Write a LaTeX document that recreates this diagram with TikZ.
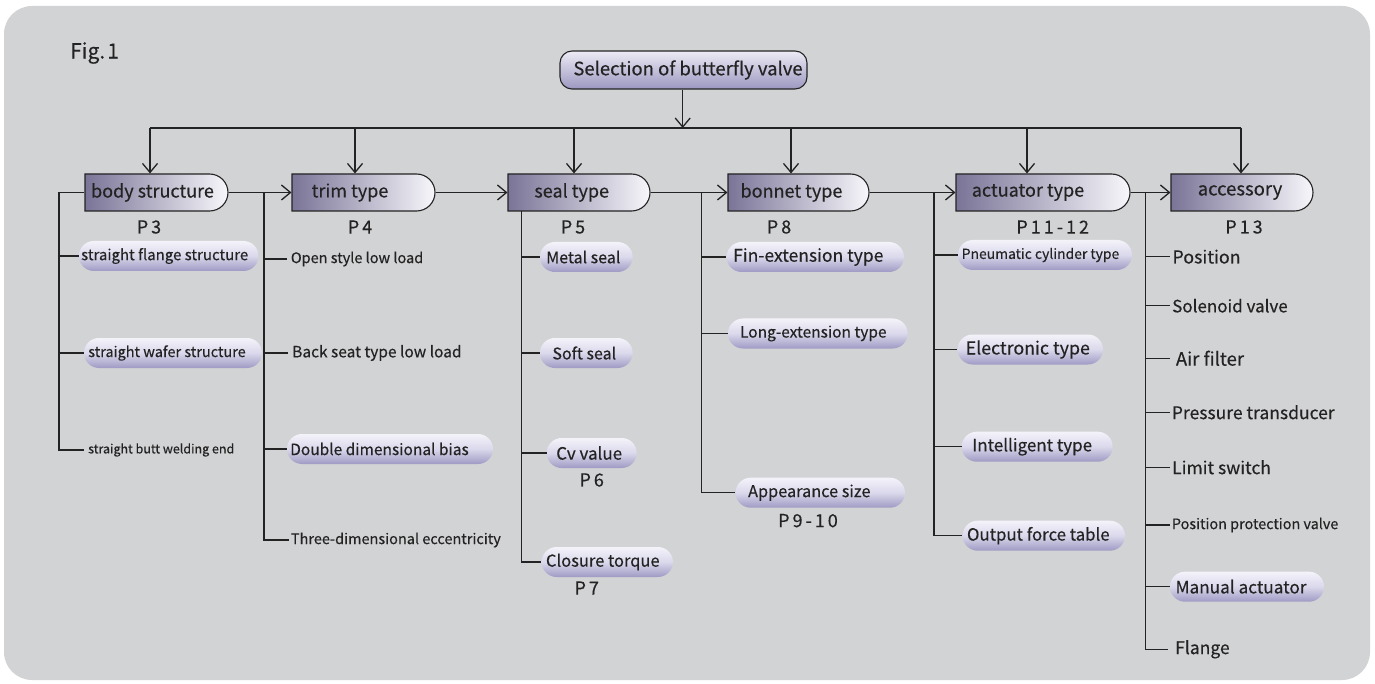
\documentclass[tikz,border=0pt]{standalone}
\usepackage{fontspec}
\setmainfont{Noto Sans CJK JP}[FakeBold=0.3,AutoFakeBold=0.3]
\usetikzlibrary{shapes.misc,arrows.meta}
\definecolor{panel}{HTML}{D2D3D5}
\definecolor{ink}{HTML}{232323}
\definecolor{boxdark}{HTML}{7A7497}
\definecolor{boxlight}{HTML}{F7F7FB}
\definecolor{pilltop}{HTML}{F4F3FA}
\definecolor{pillmid}{HTML}{DAD8EB}
\definecolor{pillbot}{HTML}{9F9AC4}
\definecolor{seltop}{HTML}{ECEBF5}
\definecolor{selbot}{HTML}{9C97C0}
\newcommand\fs[1]{\fontsize{#1}{#1}\selectfont}
\newcommand\rp[1]{\hspace*{#1pt}}
\begin{document}
\begin{tikzpicture}[x=1pt,y=-1pt,
  line/.style={draw=ink,line width=1.3pt},
  arr/.style={line,-{Straight Barb[length=9pt,width=15pt]}},
  mainbox/.style={rounded rectangle,rounded rectangle left arc=none,draw=ink,line width=1.1pt,
    left color=boxdark,right color=boxlight,minimum height=37pt,inner sep=0pt},
  maintext/.style={inner sep=0pt,text=ink,font=\fs{18}},
  pagelbl/.style={inner sep=0pt,text=ink,font=\fs{18}},
  pill/.style={rounded rectangle,top color=pilltop,bottom color=pillbot,middle color=pillmid,
    minimum height=30pt,inner sep=0pt,text=ink},
  plain/.style={inner sep=0pt,anchor=west,text=ink},
  topbox/.style={draw=ink,line width=1.1pt,rounded corners=12pt,top color=seltop,bottom color=selbot,
    inner sep=0pt,text=ink,font=\fs{18.5}}]
\useasboundingbox (0,0) rectangle (1375,684);
\fill[white] (0,0) rectangle (1375,684);
\fill[panel,rounded corners=28pt] (4,6) rectangle (1370,680);
\node[plain,font=\fs{21}] (fig) at (70,53) {Fig.\kern2pt1};
% top
\node[topbox,minimum width=247pt,minimum height=38pt] (sel) at (683.5,70) {\rp{9}Selection of butterfly valve};
\coordinate (bL) at (150,128);
\coordinate (bR) at (1241,128);
\coordinate (bM) at (682.7,128);
\draw[arr] (sel.south -| bM) -- (bM);
\draw[line] (bL) -- (bR);
% main boxes
\node[mainbox,minimum width=143pt] (body) at (156.5,192.5) {};
\node[mainbox,minimum width=143pt] (trim) at (363.5,192.5) {};
\node[mainbox,minimum width=142pt] (seal) at (579,192.5) {};
\node[mainbox,minimum width=141pt] (bonnet) at (798.5,192.5) {};
\node[mainbox,minimum width=174pt] (act) at (1043,192.5) {};
\node[mainbox,minimum width=142pt] (acc) at (1242,192.5) {};
\node[maintext] (tbody) at (152.5,192.5) {body structure};
\node[maintext] (ttrim) at (350,192.5) {trim type};
\node[maintext] (tseal) at (571.7,192.5) {seal type};
\node[maintext] (tbonnet) at (791.5,192.5) {bonnet type};
\node[maintext] (tact) at (1028,192.5) {actuator type};
\node[maintext,font=\fs{18.5}] (tacc) at (1240,192.5) {accessory};
% page labels
\node[pagelbl] (p3) at (149,227) {P\kern3pt3};
\node[pagelbl] (p4) at (360,227) {P\kern3pt4};
\node[pagelbl] (p5) at (573,227) {P\kern3pt5};
\node[pagelbl] (p8) at (779,227) {P\kern3pt8};
\node[pagelbl] (p1112) at (1052.7,227) {P\kern3pt1\kern3pt1\kern3pt-\kern3pt1\kern3pt2};
\node[pagelbl] (p13) at (1244,227) {P\kern3pt1\kern3pt3};
% bus arrows
\foreach \x/\n in {150/body,355/trim,574/seal,791/bonnet,1027/act,1241/acc}{
  \coordinate (d\n) at (\x,128);
  \draw[arr] (d\n) -- (d\n |- \n.north);
}
% chain arrows
\draw[arr] (body.east) -- (trim.west);
\draw[arr] (trim.east) -- (seal.west);
\draw[arr] (seal.east) -- (bonnet.west);
\draw[arr] (bonnet.east) -- (act.west);
\draw[arr] (act.east) -- (acc.west);
% ---- body children
\node[pill,minimum width=176pt,font=\fs{15}] (b1) at (168.7,256) {straight flange structure\rp{8}};
\node[pill,minimum width=178pt,font=\fs{14.5}] (b2) at (173,353) {straight wafer structure\rp{12}};
\node[plain,font=\fs{12.5}] (b3) at (88,450) {straight butt welding end};
\coordinate (bs0) at (59,192.5);
\draw[line] (body.west) -- (bs0) -- (bs0 |- b3.west) -- ([xshift=-4pt]b3.west);
\draw[line] (bs0 |- b1.west) -- (b1.west);
\draw[line] (bs0 |- b2.west) -- (b2.west);
% ---- trim children
\node[plain,font=\fs{14.5}] (t1) at (290.7,259) {Open style low load};
\node[plain,font=\fs{15.5}] (t2) at (292,353) {Back seat type low load};
\node[pill,minimum width=206pt,font=\fs{15.5}] (t3) at (390,449) {Double dimensional bias\rp{21}};
\node[plain,font=\fs{14.5}] (t4) at (290.7,540) {Three-dimensional eccentricity};
\coordinate (ts0) at (264,192.5);
\draw[line] (ts0) -- (ts0 |- t4.west) -- ([xshift=-2pt]t4.west);
\draw[line] (ts0 |- t1.west) -- ([xshift=-4pt]t1.west);
\draw[line] (ts0 |- t2.west) -- ([xshift=-4pt]t2.west);
\draw[line] (ts0 |- t3.west) -- (t3.west);
% ---- seal children
\node[pill,minimum width=92.7pt,font=\fs{16}] (s1) at (586.3,257) {Metal seal\rp{6}};
\node[pill,minimum width=92.7pt,font=\fs{16}] (s2) at (586.3,353) {Soft seal\rp{4}};
\node[pill,minimum width=90pt,font=\fs{17}] (s3) at (591.7,453) {Cv value\rp{5}};
\node[pill,minimum width=131.3pt,font=\fs{16.5}] (s4) at (607.3,562) {Closure torque\rp{9}};
\node[pagelbl] (p6) at (591.7,480) {P\kern3pt6};
\node[pagelbl] (p7) at (586.7,588) {P\kern3pt7};
\coordinate (ss0) at (521.7,211);
\draw[line] (ss0) -- (ss0 |- s4.west) -- (s4.west);
\draw[line] (ss0 |- s1.west) -- (s1.west);
\draw[line] (ss0 |- s2.west) -- (s2.west);
\draw[line] (ss0 |- s3.west) -- (s3.west);
% ---- bonnet children
\node[pill,minimum width=177.3pt,font=\fs{17.5}] (n1) at (815.3,257) {Fin-extension type\rp{14}};
\node[pill,minimum width=179.7pt,font=\fs{15.5}] (n2) at (817.8,333.5) {Long-extension type\rp{9}};
\node[pill,minimum width=169.3pt,font=\fs{16.3}] (n3) at (820.3,492.7) {Appearance size\rp{22}};
\node[pagelbl] (p910) at (808,520.7) {P\kern3pt9\kern3pt-\kern3pt1\kern3pt0};
\coordinate (ns0) at (701.7,192.5);
\draw[line] (ns0) -- (ns0 |- n3.west) -- (n3.west);
\draw[line] (ns0 |- n1.west) -- (n1.west);
\draw[line] (ns0 |- n2.west) -- (n2.west);
% ---- actuator children
\node[pill,minimum width=174pt,font=\fs{13.9}] (a1) at (1045,255) {Pneumatic cylinder type\rp{9}};
\node[pill,minimum width=145.3pt,font=\fs{17.8}] (a2) at (1030.3,349.5) {Electronic type\rp{5}};
\node[pill,minimum width=151pt,font=\fs{17}] (a3) at (1037.2,446.7) {Intelligent type\rp{10}};
\node[pill,minimum width=162.3pt,font=\fs{16.8}] (a4) at (1043.8,535.7) {Output force table\rp{11}};
\coordinate (as0) at (934,192.5);
\draw[line] (as0) -- (as0 |- a4.west) -- (a4.west);
\draw[line] (as0 |- a1.west) -- (a1.west);
\draw[line] (as0 |- a2.west) -- (a2.west);
\draw[line] (as0 |- a3.west) -- (a3.west);
% ---- accessory children
\node[plain,font=\fs{17.8}] (c1) at (1172.3,256.7) {Position};
\node[plain,font=\fs{17}] (c2) at (1172,305.7) {Solenoid valve};
\node[plain,font=\fs{18.5}] (c3) at (1175.7,358.3) {Air filter};
\node[plain,font=\fs{17.5}] (c4) at (1171.7,412.3) {Pressure transducer};
\node[plain,font=\fs{17.5}] (c5) at (1172,467.3) {Limit switch};
\node[plain,font=\fs{14.4}] (c6) at (1171.7,525) {Position protection valve};
\node[pill,minimum width=154pt,font=\fs{17.2}] (c7) at (1247,586.7) {Manual actuator\rp{12}};
\node[plain,font=\fs{17.5}] (c8) at (1175,649.3) {Flange};
\coordinate (cs0) at (1145.7,192.5);
\draw[line] (cs0) -- (cs0 |- c8.west) -- (1168,0 |- c8.west);
\foreach \c in {c1,c2,c3,c4,c5,c6}{
  \draw[line] (cs0 |- \c.west) -- (1170,0 |- \c.west);
}
\draw[line] (cs0 |- c7.west) -- (c7.west);
\end{tikzpicture}
\end{document}
